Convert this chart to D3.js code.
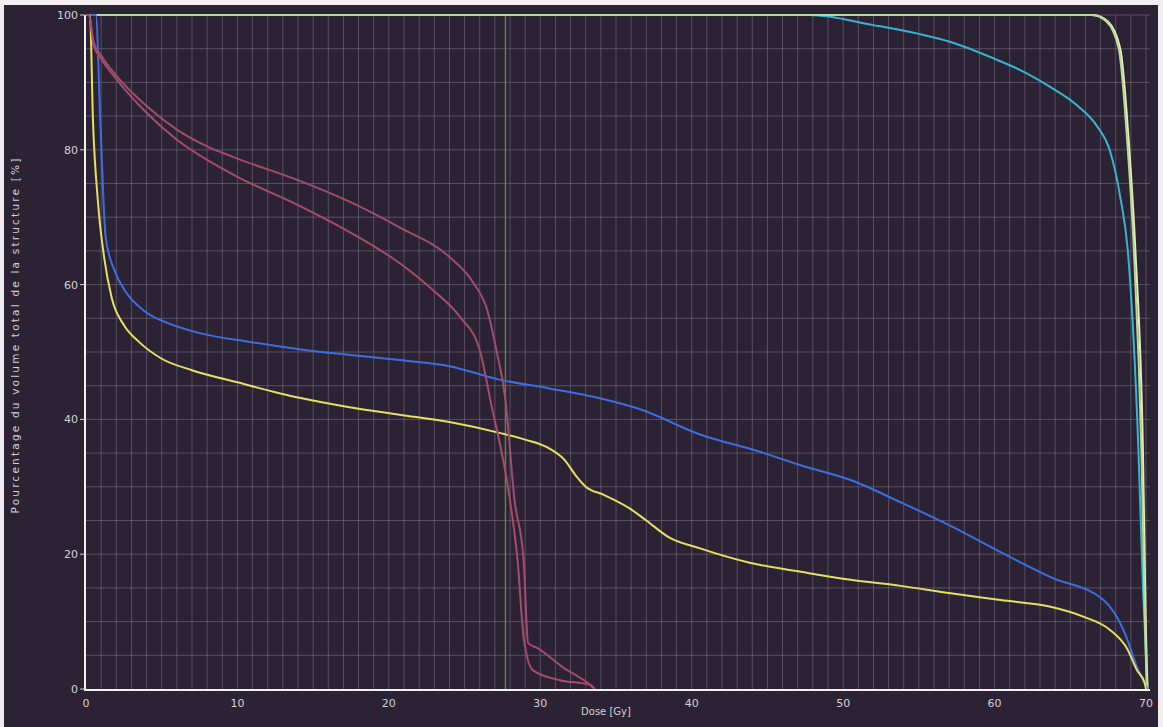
<!DOCTYPE html>
<html lang="fr">
<head>
    <meta charset="UTF-8">
    <title>Histogramme dose-volume</title>
    <script src="https://d3js.org/d3.v7.min.js"></script>
    <style>
        body { margin: 0; background: #2b2333; }
        .tick-label { font-family: "DejaVu Sans", sans-serif; font-size: 11px; fill: #d4d0d8; }
        .axis-title { font-family: "DejaVu Sans", sans-serif; font-size: 10px; fill: #d4d0d8; }
        .grid line { stroke: #766c86; stroke-opacity: 0.6; stroke-width: 1px; }
        .curve { fill: none; stroke-width: 2px; }
    </style>
</head>
<body>
<svg width="1163" height="727"></svg>
<script>
    // ticks
    const xTicks = [0, 10, 20, 30, 40, 50, 60, 70];
    const yTicks = [0, 20, 40, 60, 80, 100];

    // pale yellow (PTV)
    const ptvDose = [0, 66.5, 67.5, 68.3, 68.9, 69.3, 69.8, 70.0, 70.1];
    const ptvVol  = [100, 100, 99, 95, 80, 65, 35, 8, 0];

    // green
    const greenDose = [0, 66.4, 67.4, 68.2, 68.8, 69.2, 69.7, 69.95, 70.05];
    const greenVol  = [100, 100, 99, 95, 80, 65, 35, 8, 0];

    // cyan
    const cyanDose = [0, 47.8, 52, 55, 57.1, 60, 62, 63.7, 65.5, 66.8, 67.6, 68.3, 68.8, 69.5, 69.8, 70.1];
    const cyanVol  = [100, 100, 98.5, 97.2, 96, 93.5, 91.5, 89.3, 86.5, 83.4, 80, 73, 65, 35.5, 15, 0];

    // blue
    const blueDose = [0, 0.65, 0.95, 1.3, 1.9, 2.6, 3.9, 5.5, 7.5, 10.8, 14.1, 20.7, 24, 27.3, 30.6, 34, 36.6, 40.5, 44.5, 47.2, 50.5, 53.8, 57.1, 60.4, 63.7, 67.2, 68.6, 69.4, 70.1];
    const blueVol  = [100, 100, 84, 67, 62, 59, 56, 54.2, 52.8, 51.5, 50.4, 48.8, 47.9, 45.9, 44.6, 43.1, 41.5, 37.8, 35.2, 33.2, 31, 27.7, 24.2, 20.3, 16.6, 13.2, 8.3, 3.3, 0];

    // yellow
    const yellowDose = [0, 0.26, 0.46, 0.8, 1.2, 1.7, 2.5, 3.5, 5, 7, 10, 14.1, 17.4, 20.7, 24, 27.3, 29, 30.5, 31.6, 32.4, 33, 34.2, 35.9, 37, 38.5, 40.5, 43.9, 47.2, 50.5, 53.8, 57.1, 60.4, 63.7, 65.9, 67.6, 68.8, 69.4, 69.9, 70.0];
    const yellowVol  = [100, 100, 84.4, 72, 64, 58, 54, 51.5, 49, 47.3, 45.5, 43.2, 41.8, 40.7, 39.6, 38, 37, 35.8, 34, 31.5, 30, 28.8, 26.8, 25, 22.5, 20.9, 18.7, 17.4, 16.2, 15.3, 14.2, 13.2, 12.2, 10.7, 8.8, 5.8, 2.8, 1.0, 0];

    // pink (upper)
    const pinkADose = [0, 0.2, 0.5, 1.0, 2, 4, 6, 8, 10, 14, 17.4, 20.7, 24, 25.6, 26.5, 27.1, 27.7, 28.3, 28.9, 29.2, 29.8, 31.5, 33.3, 33.6];
    const pinkAVol  = [100, 100, 96, 94, 91, 86.5, 83, 80.5, 78.7, 75.5, 72.3, 68.5, 64.1, 60.2, 56.2, 50.3, 42.9, 28, 19.1, 6.8, 6.1, 3.2, 0.6, 0];

    // pink (lower)
    const pinkBDose = [0, 0.2, 0.5, 1.0, 2, 4, 6, 8, 10, 14, 17.4, 20.7, 22.9, 24.7, 26.0, 26.7, 28.0, 28.5, 28.9, 29.5, 31.3, 33.3, 33.6];
    const pinkBVol  = [100, 100, 95.5, 93.5, 90.5, 85.5, 81.5, 78.5, 76, 71.8, 67.8, 63.2, 59.2, 55.2, 50.3, 42.9, 28, 19.1, 7.7, 2.8, 1.3, 0.6, 0];

    const cursorDose = 27.7;

    const series = [
        {dose: cyanDose, vol: cyanVol, color: "#36b4d2"},
        {dose: ptvDose, vol: ptvVol, color: "#eeeab8"},
        {dose: greenDose, vol: greenVol, color: "#b2dc98"},
        {dose: blueDose, vol: blueVol, color: "#3d6de0"},
        {dose: yellowDose, vol: yellowVol, color: "#e6df62"},
        {dose: pinkADose, vol: pinkAVol, color: "#a14c6e"},
        {dose: pinkBDose, vol: pinkBVol, color: "#a84a6a"}
    ];

    const svg = d3.select("svg");
    const width = +svg.attr("width"), height = +svg.attr("height");

    svg.append("rect").attr("width", width).attr("height", height).attr("fill", "#2b2333");
    // scanned page borders
    svg.append("rect").attr("x", 0).attr("y", 0).attr("width", width).attr("height", 5).attr("fill", "#f2eef0");
    svg.append("rect").attr("x", 0).attr("y", 0).attr("width", 4).attr("height", height).attr("fill", "#eeecf2");
    svg.append("rect").attr("x", width - 5).attr("y", 0).attr("width", 5).attr("height", height).attr("fill", "#f2eef0");

    const x = d3.scaleLinear().domain([0, 70]).range([86, 1146]);
    const y = d3.scaleLinear().domain([0, 100]).range([689, 15]);

    // grid: 1 Gy and 5 %
    const grid = svg.append("g").attr("class", "grid");
    grid.selectAll("line.v")
        .data(d3.range(1, 71))
        .enter().append("line")
        .attr("x1", d => x(d)).attr("x2", d => x(d))
        .attr("y1", y(100)).attr("y2", y(0));
    grid.selectAll("line.h")
        .data(d3.range(5, 101, 5))
        .enter().append("line")
        .attr("x1", x(0)).attr("x2", x(70) + 4)
        .attr("y1", d => y(d)).attr("y2", d => y(d));

    // dose cursor
    svg.append("line")
        .attr("x1", x(cursorDose)).attr("x2", x(cursorDose))
        .attr("y1", y(100)).attr("y2", y(0))
        .attr("stroke", "#5f8050").attr("stroke-width", 1.5);

    const line = d3.line()
        .x(d => x(d[0]))
        .y(d => y(d[1]))
        .curve(d3.curveMonotoneX);

    svg.append("g")
        .selectAll("path")
        .data(series)
        .enter().append("path")
        .attr("class", "curve")
        .attr("stroke", d => d.color)
        .attr("d", d => line(d.dose.map((v, i) => [v, d.vol[i]])));

    // axes lines
    svg.append("line").attr("x1", x(0) - 1).attr("x2", x(0) - 1).attr("y1", y(100)).attr("y2", y(0) + 1)
        .attr("stroke", "#f4f2f0").attr("stroke-width", 2);
    svg.append("line").attr("x1", x(0) - 2).attr("x2", x(70) + 4).attr("y1", y(0) + 1).attr("y2", y(0) + 1)
        .attr("stroke", "#f4f2f0").attr("stroke-width", 2);

    // tick marks and labels
    svg.append("g").selectAll("line")
        .data(yTicks).enter().append("line")
        .attr("x1", x(0) - 6).attr("x2", x(0) - 1)
        .attr("y1", d => y(d)).attr("y2", d => y(d))
        .attr("stroke", "#d4d0d8").attr("stroke-width", 1);
    svg.append("g").selectAll("text")
        .data(yTicks).enter().append("text")
        .attr("class", "tick-label")
        .attr("x", x(0) - 8)
        .attr("y", d => y(d) + 4)
        .attr("text-anchor", "end")
        .text(d => d);
    svg.append("g").selectAll("text")
        .data(xTicks).enter().append("text")
        .attr("class", "tick-label")
        .attr("x", d => x(d))
        .attr("y", 707)
        .attr("text-anchor", "middle")
        .text(d => d);

    svg.append("text")
        .attr("class", "axis-title")
        .attr("x", 606).attr("y", 715)
        .attr("text-anchor", "middle")
        .text("Dose [Gy]");
    svg.append("text")
        .attr("class", "axis-title")
        .attr("transform", "translate(19,335) rotate(-90)")
        .attr("text-anchor", "middle")
        .style("font-size", "10.5px")
        .style("letter-spacing", "2.2px")
        .text("Pourcentage du volume total de la structure [%]");
</script>
</body>
</html>
